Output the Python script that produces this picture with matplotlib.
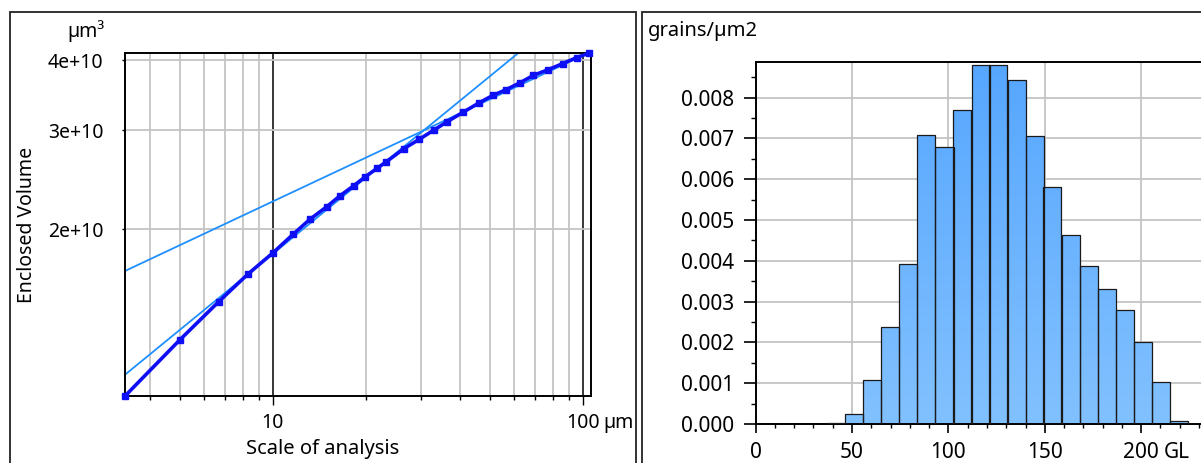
import matplotlib
matplotlib.use('Agg')
import matplotlib.pyplot as plt
import numpy as np
from matplotlib.ticker import FixedLocator, NullLocator, NullFormatter, FixedFormatter, MultipleLocator, FormatStrFormatter
from matplotlib.patches import Rectangle
from matplotlib.colors import LinearSegmentedColormap

plt.rcParams['font.family'] = ['Noto Sans', 'DejaVu Sans']
plt.rcParams['font.size'] = 14

W, H = 1201, 463

# left panel: enclosed volume vs scale of analysis
scale_um = [3.34, 5.0, 6.68, 8.3, 10.0, 11.6, 13.15, 14.9, 16.45, 18.2, 19.85,
            21.65, 23.2, 26.5, 29.7, 33.0, 36.4, 41.2, 46.4, 51.3, 56.6, 62.8,
            69.3, 77.4, 86.1, 95.5, 105.0]
volume = [1.012e10, 1.271e10, 1.487e10, 1.665e10, 1.817e10, 1.959e10, 2.084e10,
          2.194e10, 2.295e10, 2.391e10, 2.481e10, 2.568e10, 2.638e10, 2.786e10,
          2.895e10, 3.003e10, 3.107e10, 3.236e10, 3.363e10, 3.465e10, 3.547e10,
          3.650e10, 3.761e10, 3.850e10, 3.946e10, 4.044e10, 4.121e10]
# fitted lines (fine and coarse scales)
fit_fine_x = [3.34, 105.0]
fit_fine_y = [1.104e10, 5.23e10]
fit_coarse_x = [3.34, 105.0]
fit_coarse_y = [1.688e10, 4.13e10]
vol_ticks = [2e10, 3e10, 4e10]
vol_labels = ['2e+10', '3e+10', '4e+10']

# right panel: histogram of grains/µm2 over grey level
bin_left = [37.05, 46.4, 55.7, 65.2, 74.6, 83.9, 93.3, 102.6, 112.0, 121.3, 130.7,
            140.0, 149.3, 158.7, 168.0, 177.4, 186.7, 196.1, 205.4, 214.8, 224.1]
density = [0.00002, 0.00025, 0.00108, 0.00237, 0.00393, 0.00708, 0.0068, 0.0077,
           0.00879, 0.00881, 0.00843, 0.00706, 0.0058, 0.00462, 0.00388, 0.00332,
           0.00279, 0.00201, 0.00104, 0.00007, 0.00001]
bin_width = 9.35


def px(v):
    return v * 72.0 / 100.0


fig = plt.figure(figsize=(W / 100, H / 100), dpi=100)

# panel frames
fig.add_artist(Rectangle((10 / W, -0.1), 626 / W, (H - 12) / H + 0.1,
                         transform=fig.transFigure, fill=False, ec='#222222', lw=1.3))
fig.add_artist(Rectangle((642 / W, -0.1), 0.6, (H - 12) / H + 0.1,
                         transform=fig.transFigure, fill=False, ec='#222222', lw=1.3))

# ---------- left panel ----------
ax = fig.add_axes([125.3 / W, 1 - 395.7 / H, (590.7 - 125.3) / W, (395.7 - 53) / H])
ax.set_xscale('log')
ax.set_yscale('log')
ax.set_axisbelow(True)
ax.plot(fit_fine_x, fit_fine_y, color='#1e8fff', lw=1.3, zorder=2)
ax.plot(fit_coarse_x, fit_coarse_y, color='#1e8fff', lw=1.3, zorder=2)
ax.plot(scale_um, volume, color='#0f0ff5', lw=2.6, marker='s', ms=4.5,
        zorder=3, clip_on=False)
ax.set_xlim(scale_um[0], 106.0)
ax.set_ylim(volume[0], volume[-1])

ax.xaxis.set_major_locator(FixedLocator([10, 100]))
ax.xaxis.set_major_formatter(FixedFormatter(['10', '100']))
ax.xaxis.set_minor_locator(FixedLocator([4, 5, 6, 7, 8, 9, 20, 30, 40, 50, 60, 70, 80, 90]))
ax.xaxis.set_minor_formatter(NullFormatter())
ax.yaxis.set_major_locator(FixedLocator(vol_ticks))
ax.yaxis.set_major_formatter(FixedFormatter(vol_labels))
ax.yaxis.set_minor_locator(NullLocator())
ax.tick_params(axis='x', which='major', length=px(9), width=1, pad=px(8))
ax.tick_params(axis='x', which='minor', length=px(4), width=1)
ax.tick_params(axis='y', which='major', length=px(3), width=1, pad=px(19))
ax.grid(which='minor', axis='x', color='#c4c4c4', lw=1.3)
ax.grid(which='major', axis='x', color='black', lw=1.1)
ax.grid(which='major', axis='y', color='#c4c4c4', lw=1.3)
for s in ax.spines.values():
    s.set_linewidth(1.4)

ax.annotate('µm', xy=(100, 0), xycoords=('data', 'axes fraction'),
            xytext=(px(21), -px(17)), textcoords='offset points', ha='left', va='top')
fig.text(105 / W, 1 - 31 / H, 'µm³', ha='right', va='center')
fig.text(323 / W, 1 - 449 / H, 'Scale of analysis', ha='center', va='center', fontsize=14.5)
fig.text(27 / W, 1 - 224.5 / H, 'Enclosed Volume', ha='center', va='center', rotation=90)

# ---------- right panel ----------
x0_px, unit_px = 755.6, 1.928
xmax = 255
bx = fig.add_axes([x0_px / W, 1 - 424 / H, xmax * unit_px / W, (424 - 62.3) / H])
bx.set_axisbelow(True)
ymax = 0.008864
bars = bx.bar(bin_left, density, width=bin_width, align='edge', facecolor='none',
              edgecolor='#1a1a1a', lw=0.9, zorder=3)
cmap = LinearSegmentedColormap.from_list('barfill', ['#82c1ff', '#56a6fe'])
grad = np.linspace(0, 1, 256).reshape(-1, 1)
for b in bars:
    im = bx.imshow(grad, extent=[b.get_x(), b.get_x() + b.get_width(), 0, ymax],
                   origin='lower', aspect='auto', cmap=cmap, zorder=2)
    im.set_clip_path(b)
bx.set_xlim(0, xmax)
bx.set_ylim(0, ymax)
bx.xaxis.set_major_locator(FixedLocator([0, 50, 100, 150, 200]))
bx.xaxis.set_major_formatter(FixedFormatter(['0', '50', '100', '150', '200']))
bx.xaxis.set_minor_locator(MultipleLocator(10))
bx.yaxis.set_major_locator(MultipleLocator(0.001))
bx.yaxis.set_major_formatter(FormatStrFormatter('%.3f'))
bx.yaxis.set_minor_locator(MultipleLocator(0.0005))
bx.tick_params(axis='x', which='major', length=px(9), width=1.2, pad=px(9), labelsize=15)
bx.tick_params(axis='x', which='minor', length=px(4), width=1)
bx.tick_params(axis='y', which='major', length=px(12), width=1.2, pad=px(9), labelsize=15)
bx.tick_params(axis='y', which='minor', length=px(5), width=1)
bx.grid(which='major', color='#c4c4c4', lw=1.3)
for s in bx.spines.values():
    s.set_linewidth(1.4)
bx.annotate('GL', xy=(200, 0), xycoords=('data', 'axes fraction'),
            xytext=(px(23), -px(18)), textcoords='offset points', ha='left', va='top',
            fontsize=15)
fig.text(648 / W, 1 - 31 / H, 'grains/µm2', ha='left', va='center', fontsize=14.5)

fig.savefig('out.png', dpi=100)
